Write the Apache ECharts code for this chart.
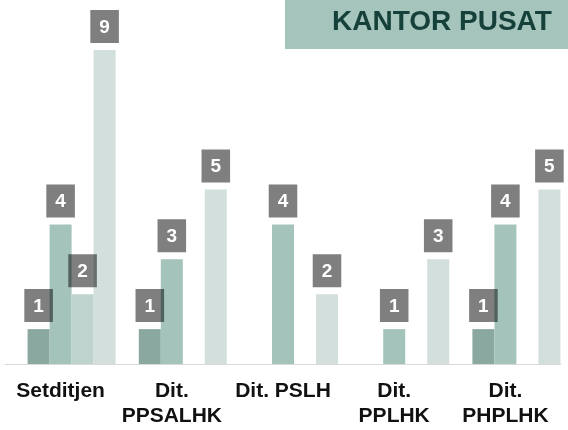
<!DOCTYPE html>
<html>
<head>
<meta charset="utf-8">
<script src="https://cdn.jsdelivr.net/npm/echarts@6/dist/echarts.min.js"></script>
<style>
  html, body { margin: 0; padding: 0; background: #fff; }
  #chart { width: 568px; height: 430px; }
</style>
</head>
<body>
<div id="chart"></div>
<script>
// categories and values
const categories = ["Setditjen", "Dit.\nPPSALHK", "Dit. PSLH", "Dit.\nPPLHK", "Dit.\nPHPLHK"];
const emptySlot = [null, null, null, null, null]; // unused first series slot
const series1 = [1, 1, null, null, 1];
const series2 = [4, 3, 4, 1, 4];
const series3 = [2, null, null, null, null];
const series4 = [9, 5, 2, 3, 5];

const chart = echarts.init(document.getElementById("chart"), null, { renderer: "canvas" });

const labelStyle = {
  show: true,
  position: "top",
  distance: 7,
  color: "#fff",
  fontFamily: "Liberation Sans",
  fontWeight: "bold",
  fontSize: 19,
  lineHeight: 19,
  backgroundColor: "rgba(0,0,0,0.5)",
  padding: [8, 9, 6, 9],
};

const makeSeries = (name, data, color, withLabel) => ({
  name: name,
  type: "bar",
  data: data,
  barWidth: 22,
  barGap: "0%",
  itemStyle: { color: color },
  label: withLabel ? labelStyle : { show: false },
  silent: true,
});

const option = {
  animation: false,
  title: {
    text: "KANTOR PUSAT",
    left: 285,
    top: 0,
    padding: [8, 30, 12, 47],
    backgroundColor: "#a4c4bc",
    textStyle: {
      color: "#16403a",
      fontFamily: "Liberation Sans",
      fontWeight: "bold",
      fontSize: 28,
      lineHeight: 29,
    },
  },
  grid: { left: 5, right: 7, top: 50, bottom: 66 },
  xAxis: {
    type: "category",
    data: categories,
    axisLine: { lineStyle: { color: "#d9d9d9", width: 1 } },
    axisTick: { show: false },
    axisLabel: {
      interval: 0,
      margin: 15,
      color: "#111",
      fontFamily: "Liberation Sans",
      fontWeight: "bold",
      fontSize: 21,
      lineHeight: 25,
    },
  },
  yAxis: {
    type: "value",
    min: 0,
    max: 9,
    show: false,
    splitLine: { show: false },
  },
  series: [
    makeSeries("empty", emptySlot, "transparent", false),
    makeSeries("s1", series1, "#8aa8a0", true),
    makeSeries("s2", series2, "#a3c3bb", true),
    makeSeries("s3", series3, "#bfd3ce", true),
    makeSeries("s4", series4, "#d3dfdc", true),
  ],
};

chart.setOption(option);
</script>
</body>
</html>
